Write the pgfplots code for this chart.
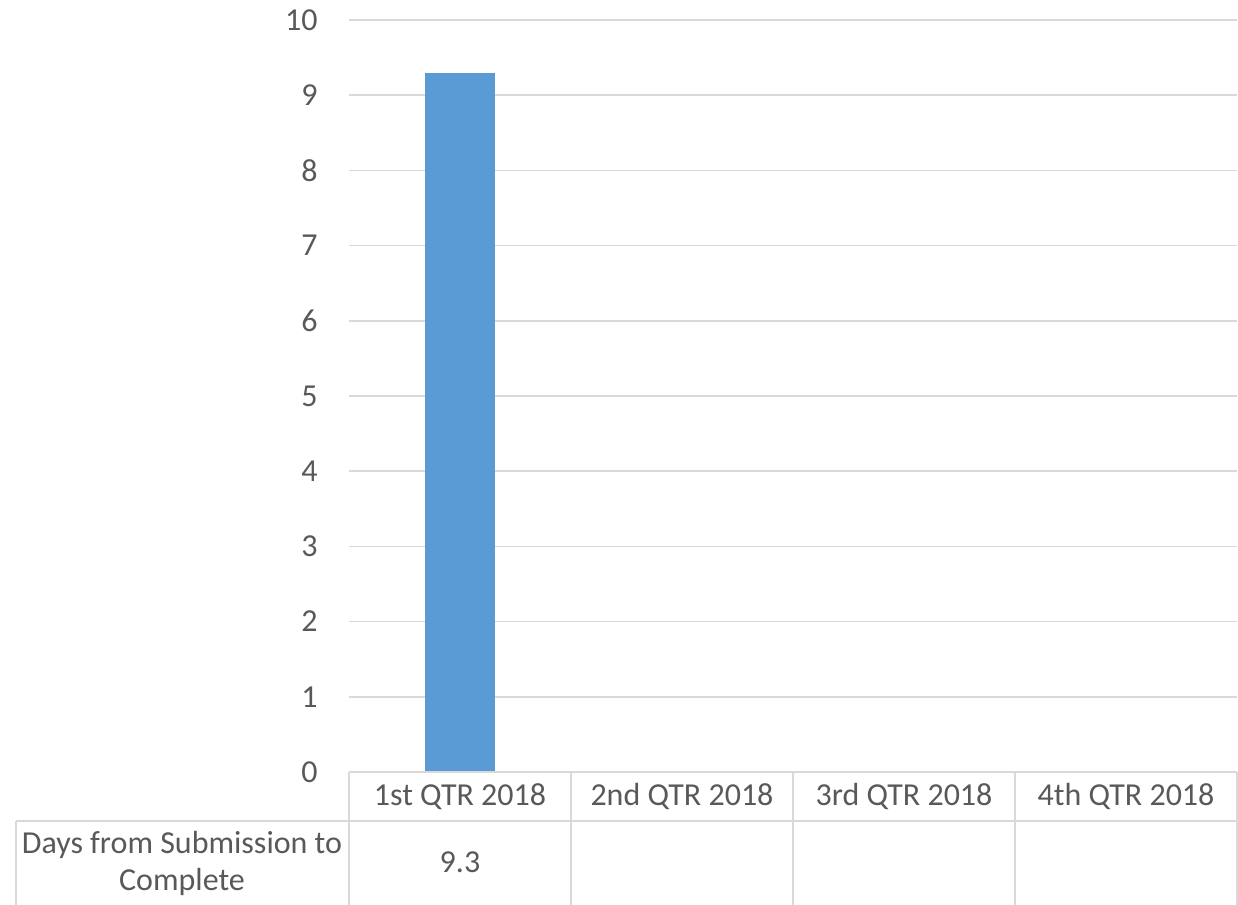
\documentclass[border=0pt]{standalone}
\usepackage{pgfplots}
\pgfplotsset{compat=1.18}
\usepackage{fontspec}
\setmainfont{Carlito}
\definecolor{barblue}{HTML}{5B9BD5}
\definecolor{gridgray}{HTML}{D9D9D9}
\definecolor{txtgray}{HTML}{595959}
\begin{document}
\begin{tikzpicture}
\useasboundingbox (-174.5pt,-66.5pt) rectangle (444.5pt,386pt);
\begin{axis}[
  at={(0pt,0pt)}, anchor=south west,
  scale only axis,
  width=444pt, height=376pt,
  xmin=-0.5, xmax=3.5, ymin=0, ymax=10,
  axis line style={draw=none},
  ytick={0,1,...,10},
  xtick={0,1,2,3},
  xticklabels={1st QTR 2018,2nd QTR 2018,3rd QTR 2018,4th QTR 2018},
  ymajorgrids,
  grid style={gridgray, line width=0.8pt},
  major tick length=0pt,
  tick style={draw=none},
  tick label style={font=\fontsize{16}{19}\selectfont, text=txtgray},
  yticklabel style={anchor=east, inner sep=0pt, xshift=-15.5pt},
  xticklabel style={anchor=center, inner sep=0pt, yshift=-12.5pt},
  /pgf/number format/assume math mode=true,
  clip=false,
]
\addplot[ybar, bar width=35pt, fill=barblue, draw=none] coordinates {(0,9.3)};
\end{axis}
\begin{scope}[gridgray, line width=0.8pt]
\draw (0pt,0pt) -- (444pt,0pt);
\draw (-166.5pt,-24.5pt) -- (444pt,-24.5pt);
\foreach \x in {0,111,222,333,444} \draw (\x pt,0pt) -- (\x pt,-66.5pt);
\draw (-166.5pt,-24.5pt) -- (-166.5pt,-66.5pt);
\end{scope}
\node[text=txtgray, align=center, font=\fontsize{16}{18.5}\selectfont, inner sep=0pt] at (-83.5pt,-45.75pt) {Days from Submission to\\Complete};
\node[text=txtgray, font=\fontsize{16}{19}\selectfont, inner sep=0pt] at (55.5pt,-45pt) {9.3};
\end{tikzpicture}
\end{document}
